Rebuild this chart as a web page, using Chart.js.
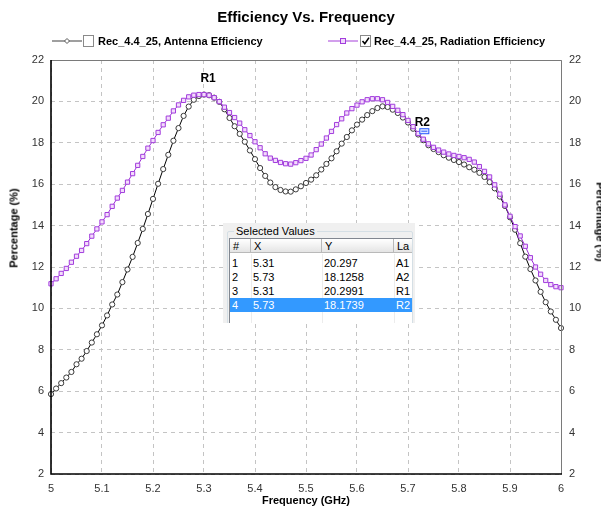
<!DOCTYPE html>
<html>
<head>
<meta charset="utf-8">
<title>Efficiency Vs. Frequency</title>
<script src="https://cdn.jsdelivr.net/npm/chart.js@4.4.1/dist/chart.umd.min.js"></script>
<style>
  html, body { margin: 0; padding: 0; background: #fff; overflow: hidden; }
  #wrap { position: relative; width: 601px; height: 510px; overflow: hidden;
          font-family: "Liberation Sans", Arial, sans-serif; color: #000; }
  #chart { position: absolute; left: 0; top: 0; }
  .abs { position: absolute; white-space: nowrap; }
  .title { font-size: 15px; font-weight: bold; line-height: 18px; left: 306px; top: 8px; transform: translateX(-50%); }
  .legtxt { font-size: 11px; font-weight: bold; line-height: 13px; top: 35px; }
  .axtitle { font-size: 11px; font-weight: bold; line-height: 13px; }
  .panel { left: 223px; top: 223px; width: 192px; height: 100px; background: #f0f0f0; overflow: hidden; }
  .group { left: 4px; top: 8px; width: 184px; height: 120px; border: 1px solid #d5dfe5; border-radius: 2px; }
  .grouptitle { left: 11px; top: 1px; font-size: 11px; line-height: 14px; background: #f0f0f0; padding: 0 2px; }
  .list { left: 6px; top: 15px; width: 182px; height: 100px; background: #fff; border-left: 1px solid #828790; border-top: 1px solid #828790; overflow: hidden; }
  .hdr { position: absolute; top: 0; height: 14px; background: linear-gradient(#ffffff, #f2f2f2 50%, #e4e4e4); border-right: 1px solid #b9b9b9; border-bottom: 1px solid #b9b9b9; box-sizing: border-box; font-size: 11px; line-height: 14px; padding-left: 3px; overflow: hidden; }
  .cell { position: absolute; height: 14px; font-size: 11px; line-height: 14px; padding-left: 2px; box-sizing: border-box; overflow: hidden; }
  .sel { background: #3399ff; color: #fff; }
  .vsep { position: absolute; top: 15px; width: 1px; height: 90px; background: #ececec; }
</style>
</head>
<body>
<div id="wrap">
  <canvas id="chart" width="601" height="510"></canvas>

  <div class="abs title">Efficiency Vs. Frequency</div>

  <!-- legend: antenna efficiency -->
  <svg class="abs" style="left:50px;top:34px" width="48" height="14">
    <line x1="2" y1="7" x2="32" y2="7" stroke="#7f7f7f" stroke-width="1.5"/>
    <path d="M17 4.5 L19.5 7 L17 9.5 L14.5 7 Z" fill="#fff" stroke="#555" stroke-width="1"/>
    <rect x="33.5" y="1.5" width="10" height="11" fill="#fff" stroke="#8a8a8a"/>
  </svg>
  <div class="abs legtxt" style="left:98px">Rec_4.4_25, Antenna Efficiency</div>

  <!-- legend: radiation efficiency -->
  <svg class="abs" style="left:326px;top:34px" width="48" height="14">
    <line x1="2" y1="7" x2="32" y2="7" stroke="#c37fe6" stroke-width="1.5"/>
    <rect x="14.5" y="4.5" width="5" height="5" fill="#f0d6fb" stroke="#a23ddd" stroke-width="1"/>
    <rect x="34.5" y="1.5" width="10" height="11" fill="#fff" stroke="#8a8a8a"/>
    <path d="M36.5 7 L38.8 9.6 L43 3.6" fill="none" stroke="#000" stroke-width="1.6"/>
  </svg>
  <div class="abs legtxt" style="left:374px">Rec_4.4_25, Radiation Efficiency</div>

  <!-- axis titles -->
  <div class="abs axtitle" style="left:14px;top:228px;transform:translate(-50%,-50%) rotate(-90deg)">Percentage (%)</div>
  <div class="abs axtitle" style="left:600px;top:222px;transform:translate(-50%,-50%) rotate(90deg)">Percentage (%)</div>
  <div class="abs axtitle" style="left:306px;top:494px;transform:translateX(-50%)">Frequency (GHz)</div>

  <!-- selected values panel -->
  <div class="abs panel">
    <div class="abs group"></div>
    <div class="abs grouptitle">Selected Values</div>
    <div class="abs list" id="list"></div>
  </div>
</div>

<script>
// Frequency sweep (GHz)
const freqGHz = [
  5.00, 5.01, 5.02, 5.03, 5.04, 5.05, 5.06, 5.07, 5.08, 5.09,
  5.10, 5.11, 5.12, 5.13, 5.14, 5.15, 5.16, 5.17, 5.18, 5.19,
  5.20, 5.21, 5.22, 5.23, 5.24, 5.25, 5.26, 5.27, 5.28, 5.29,
  5.30, 5.31, 5.32, 5.33, 5.34, 5.35, 5.36, 5.37, 5.38, 5.39,
  5.40, 5.41, 5.42, 5.43, 5.44, 5.45, 5.46, 5.47, 5.48, 5.49,
  5.50, 5.51, 5.52, 5.53, 5.54, 5.55, 5.56, 5.57, 5.58, 5.59,
  5.60, 5.61, 5.62, 5.63, 5.64, 5.65, 5.66, 5.67, 5.68, 5.69,
  5.70, 5.71, 5.72, 5.73, 5.74, 5.75, 5.76, 5.77, 5.78, 5.79,
  5.80, 5.81, 5.82, 5.83, 5.84, 5.85, 5.86, 5.87, 5.88, 5.89,
  5.90, 5.91, 5.92, 5.93, 5.94, 5.95, 5.96, 5.97, 5.98, 5.99,
  6.00
];

// Rec_4.4_25, Antenna Efficiency (%)
const antennaEff = [
  5.86, 6.13, 6.39, 6.66, 6.93, 7.30, 7.57, 7.94, 8.35, 8.75,
  9.18, 9.66, 10.19, 10.67, 11.27, 11.88, 12.49, 13.16, 13.84, 14.56,
  15.29, 16.02, 16.73, 17.42, 18.10, 18.71, 19.30, 19.75, 20.08, 20.26,
  20.33, 20.297, 20.18, 19.98, 19.62, 19.20, 18.80, 18.43, 18.05, 17.63,
  17.21, 16.78, 16.40, 16.08, 15.86, 15.72, 15.65, 15.64, 15.75, 15.90,
  16.06, 16.22, 16.43, 16.71, 16.98, 17.25, 17.59, 17.96, 18.28, 18.60,
  18.88, 19.12, 19.34, 19.53, 19.68, 19.76, 19.73, 19.60, 19.44, 19.22,
  18.98, 18.68, 18.40, 18.1258, 17.88, 17.70, 17.55, 17.40, 17.28, 17.17,
  17.07, 16.95, 16.82, 16.70, 16.55, 16.35, 16.10, 15.80, 15.40, 14.95,
  14.40, 13.80, 13.15, 12.50, 11.90, 11.35, 10.80, 10.30, 9.85, 9.45,
  9.05
];

// Rec_4.4_25, Radiation Efficiency (%)
const radiationEff = [
  11.19, 11.43, 11.69, 11.93, 12.23, 12.52, 12.80, 13.13, 13.49, 13.84,
  14.18, 14.53, 14.93, 15.33, 15.70, 16.10, 16.51, 16.91, 17.34, 17.74,
  18.11, 18.50, 18.87, 19.19, 19.54, 19.83, 20.05, 20.22, 20.30, 20.33,
  20.33, 20.2991, 20.18, 19.99, 19.72, 19.46, 19.22, 18.95, 18.63, 18.35,
  18.05, 17.76, 17.47, 17.26, 17.15, 17.05, 16.99, 16.97, 17.04, 17.14,
  17.25, 17.41, 17.67, 17.94, 18.23, 18.55, 18.88, 19.16, 19.44, 19.65,
  19.82, 19.98, 20.08, 20.13, 20.13, 20.08, 19.95, 19.76, 19.57, 19.36,
  19.08, 18.78, 18.45, 18.1739, 17.95, 17.78, 17.65, 17.55, 17.46, 17.39,
  17.34, 17.28, 17.20, 17.07, 16.85, 16.62, 16.35, 15.97, 15.52, 15.00,
  14.45, 13.95, 13.50, 13.00, 12.45, 12.00, 11.65, 11.35, 11.15, 11.05,
  11.00
];

// Marker table rows
const markerIds    = ['1', '2', '3', '4'];
const markerX      = ['5.31', '5.73', '5.31', '5.73'];
const markerY      = ['20.297', '18.1258', '20.2991', '18.1739'];
const markerLabels = ['A1', 'A2', 'R1', 'R2'];
const selectedRow  = 3;

// Markers shown on the plot (radiation curve)
const plotMarkerNames = ['R1', 'R2'];
const plotMarkerFreq  = [5.31, 5.73];
const plotMarkerVal   = [20.2991, 18.1739];

const yTicksMin = 2, yTicksMax = 22, yTickStep = 2;
const xTicksMin = 5, xTicksMax = 6, xTickStep = 0.1;

// ---- table ----
(function buildTable() {
  const list = document.getElementById('list');
  const cols = [{ t: '#', l: 0, w: 21 }, { t: 'X', l: 21, w: 71 }, { t: 'Y', l: 92, w: 72 }, { t: 'La', l: 164, w: 40 }];
  cols.forEach(c => {
    const h = document.createElement('div');
    h.className = 'hdr';
    h.style.left = c.l + 'px';
    h.style.width = c.w + 'px';
    h.textContent = c.t;
    list.appendChild(h);
  });
  [21, 92, 164].forEach(x => {
    const s = document.createElement('div');
    s.className = 'vsep';
    s.style.left = x + 'px';
    list.appendChild(s);
  });
  markerIds.forEach((id, i) => {
    const vals = [id, markerX[i], markerY[i], markerLabels[i]];
    vals.forEach((v, j) => {
      const d = document.createElement('div');
      d.className = 'cell' + (i === selectedRow ? ' sel' : '');
      d.style.left = cols[j].l + 'px';
      d.style.width = (j === 3 ? 40 : cols[j].w) + 'px';
      d.style.top = (16.5 + i * 14.33) + 'px';
      d.textContent = v;
      list.appendChild(d);
    });
  });
})();

// ---- chart ----
const FONT = "'Liberation Sans', Arial, sans-serif";

const framePlugin = {
  id: 'frame',
  afterDatasetsDraw(chart) {
    const { ctx, chartArea: a, scales } = chart;
    ctx.save();
    // top and right edges
    ctx.strokeStyle = '#7a7a7a';
    ctx.lineWidth = 1;
    ctx.beginPath();
    ctx.moveTo(a.left, a.top + 0.5);
    ctx.lineTo(a.right + 0.5, a.top + 0.5);
    ctx.lineTo(a.right + 0.5, a.bottom);
    ctx.stroke();
    // left and bottom axes
    ctx.strokeStyle = '#000';
    ctx.lineWidth = 1.6;
    ctx.beginPath();
    ctx.moveTo(a.left, a.top);
    ctx.lineTo(a.left, a.bottom);
    ctx.lineTo(a.right + 1, a.bottom);
    ctx.stroke();

    // marker labels
    ctx.font = 'bold 12px ' + FONT;
    ctx.fillStyle = '#000';
    ctx.textAlign = 'center';
    ctx.textBaseline = 'middle';
    plotMarkerNames.forEach((name, i) => {
      const px = scales.x.getPixelForValue(plotMarkerFreq[i]);
      const py = scales.y.getPixelForValue(plotMarkerVal[i]);
      ctx.fillText(name, px - 1, py - 17);
      if (i === 1) {
        // selected-marker flag
        ctx.fillStyle = '#dfe9ff';
        ctx.fillRect(px - 4, py - 11, 10, 6);
        ctx.strokeStyle = '#2a5cff';
        ctx.lineWidth = 1;
        ctx.strokeRect(px - 3.5, py - 10.5, 9, 5);
        ctx.beginPath();
        ctx.moveTo(px - 2, py - 8);
        ctx.lineTo(px + 4, py - 8);
        ctx.stroke();
        ctx.fillStyle = '#000';
      }
    });
    ctx.restore();
  }
};

const tickFont = { size: 11, family: FONT };
const gridStyle = { color: '#c4c4c4', lineWidth: 1, drawTicks: false };

new Chart(document.getElementById('chart').getContext('2d'), {
  type: 'line',
  data: {
    datasets: [
      {
        label: 'Rec_4.4_25, Radiation Efficiency',
        data: freqGHz.map((f, i) => ({ x: f, y: radiationEff[i] })),
        borderColor: '#9c2fd6',
        borderWidth: 1,
        pointStyle: 'rect',
        pointRadius: 3,
        pointBorderColor: '#a23ddd',
        pointBackgroundColor: '#f3dcfb',
        pointBorderWidth: 1,
        tension: 0,
        clip: 6
      },
      {
        label: 'Rec_4.4_25, Antenna Efficiency',
        data: freqGHz.map((f, i) => ({ x: f, y: antennaEff[i] })),
        borderColor: '#000',
        borderWidth: 1,
        pointStyle: 'circle',
        pointRadius: 2.6,
        pointBorderColor: '#3a3a3a',
        pointBackgroundColor: '#ffffff',
        pointBorderWidth: 1,
        tension: 0,
        clip: 6
      }
    ]
  },
  options: {
    responsive: false,
    animation: false,
    devicePixelRatio: 1,
    layout: { padding: { top: 60, left: 0, right: 0, bottom: 0 } },
    plugins: {
      legend: { display: false },
      title: { display: false },
      tooltip: { enabled: false }
    },
    scales: {
      x: {
        type: 'linear',
        min: xTicksMin,
        max: xTicksMax,
        afterFit(s) { s.height = 36; },
        ticks: {
          stepSize: xTickStep,
          padding: 8,
          color: '#333',
          font: tickFont,
          maxRotation: 0,
          autoSkip: false,
          callback: v => String(+v.toFixed(1))
        },
        grid: gridStyle,
        border: { display: false, dash: [4, 4] }
      },
      y: {
        position: 'left',
        min: yTicksMin,
        max: yTicksMax,
        afterFit(s) { s.width = 51; },
        ticks: { stepSize: yTickStep, padding: 7, color: '#333', font: tickFont },
        grid: gridStyle,
        border: { display: false, dash: [4, 4] }
      },
      y2: {
        position: 'right',
        min: yTicksMin,
        max: yTicksMax,
        afterFit(s) { s.width = 40; },
        ticks: { stepSize: yTickStep, padding: 8, color: '#333', font: tickFont },
        grid: { display: false, drawTicks: false },
        border: { display: false }
      }
    }
  },
  plugins: [framePlugin]
});
</script>
</body>
</html>
